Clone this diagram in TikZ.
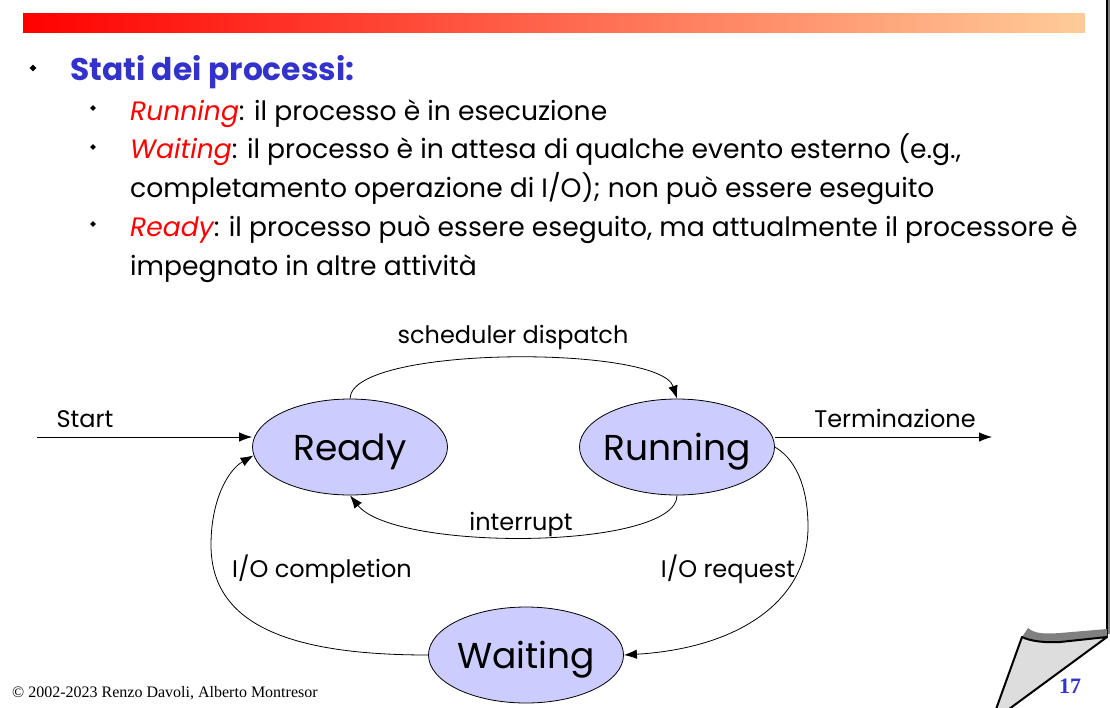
\documentclass[tikz,border=0pt]{standalone}
\usepackage{fontspec}
\setmainfont{Poppins}
\newfontfamily\serifft{Liberation Serif}
\usetikzlibrary{shapes.geometric,arrows.meta}
\definecolor{titleblue}{RGB}{51,51,204}
\definecolor{statefill}{RGB}{204,204,255}
\definecolor{barend}{RGB}{255,204,153}
\definecolor{curlgray}{RGB}{221,221,221}
\definecolor{curlshade}{RGB}{128,128,128}
\begin{document}
\begin{tikzpicture}[x=1pt,y=-1pt,
  state/.style={ellipse,draw=black,line width=0.8pt,fill=statefill,
    minimum width=195pt,minimum height=96pt,inner ysep=0pt,inner xsep=-14pt,
    text height=26pt,text depth=0pt,font=\fontsize{36}{40}\selectfont},
  lbl/.style={anchor=base,inner sep=0pt,font=\fontsize{24}{28}\selectfont},
  trans/.style={line width=0.8pt,-{Latex[length=13pt,width=9.5pt]}},
  body/.style={anchor=base west,inner sep=0pt,font=\fontsize{26.6}{30}\selectfont},
  bulletmark/.style={diamond,fill=black,inner sep=0pt,minimum size=7pt}
]
\useasboundingbox (0,0) rectangle (1110,707);

% header bar
\shade[left color=red,right color=barend] (23,13) rectangle (1085,32);

% page edge and curled corner
\draw[curlshade,line width=4pt] (1107.5,0) -- (1107.5,634);
\draw[black,line width=2.2pt] (1107.3,0) -- (1107.3,637);
\fill[curlshade] (1028,628) .. controls (1035,634) and (1045,634) .. (1060,633)
  -- (1107,629) -- (1107,637) -- (1060,642) .. controls (1045,643) and (1030,641) .. (1022,637) -- cycle;
\filldraw[fill=curlgray,draw=black,line width=2pt,line join=round]
  (1022,637) .. controls (1030,641) and (1045,643) .. (1060,642) -- (1107,637)
  -- (1005,712) -- (995,712) -- cycle;

% title and bullet list
\node[bulletmark] (b0) at (33,68) {};
\node[anchor=base west,inner sep=0pt,text=titleblue,font=\bfseries\fontsize{31.3}{34}\selectfont] (title) at (70,80) {Stati dei processi:};

\node[bulletmark,minimum size=6pt] (b1) at (93,108) {};
\node[body] (l1) at (130,120) {\textcolor{red}{\itshape Running}: il processo è in esecuzione};
\node[bulletmark,minimum size=6pt] (b2) at (93,147) {};
\node[body] (l2) at (130,158) {\textcolor{red}{\itshape Waiting}: il processo è in attesa di qualche evento esterno (e.g.,};
\node[body] (l3) at (130,197) {completamento operazione di I/O); non può essere eseguito};
\node[bulletmark,minimum size=6pt] (b3) at (93,224) {};
\node[body] (l4) at (130,236) {\textcolor{red}{\itshape Ready}: il processo può essere eseguito, ma attualmente il processore è};
\node[body] (l5) at (130,275) {impegnato in altre attività};

% states
\node[state] (Ready) at (350,447) {Ready};
\node[state] (Running) at (677,447) {Running};
\node[state] (Waiting) at (526,655) {Waiting};

% transitions
\coordinate (s0) at (37,437);
\coordinate (t1) at (992,437);
\draw[trans] (s0) -- (s0 -| Ready.west);
\draw[trans] (t1 -| Running.east) -- (t1);
\draw[trans] (Ready.north) .. controls (351,345) and (660,345) .. (Running.north);
\draw[trans] (Running.south) .. controls (677,550) and (395,552) .. (Ready.south);
\draw[trans] (Running.east) .. controls (800,462) and (808,495) .. (808,527)
  .. controls (808,600) and (740,648) .. (Waiting.east);
\draw[trans] (Waiting.west) .. controls (290,655) and (211,625) .. (211,545)
  .. controls (211,500) and (228,470) .. (Ready.185);

% transition labels
\node[lbl] (lstart) at (85,427) {Start};
\node[lbl] (lterm) at (895,427) {Terminazione};
\node[lbl] (lsched) at (513,343) {scheduler dispatch};
\node[lbl] (lint) at (521,530) {interrupt};
\node[lbl] (lcomp) at (322,577) {I/O completion};
\node[lbl] (lreq) at (728,577) {I/O request};

% footer
\node[anchor=base west,inner sep=0pt,font=\serifft\fontsize{16}{18}\selectfont] (foot) at (12,697) {© 2002-2023 Renzo Davoli, Alberto Montresor};
\node[anchor=base west,inner sep=0pt,text=titleblue,font=\serifft\bfseries\fontsize{22}{24}\selectfont] (pg) at (1059,693) {17};
\end{tikzpicture}
\end{document}
